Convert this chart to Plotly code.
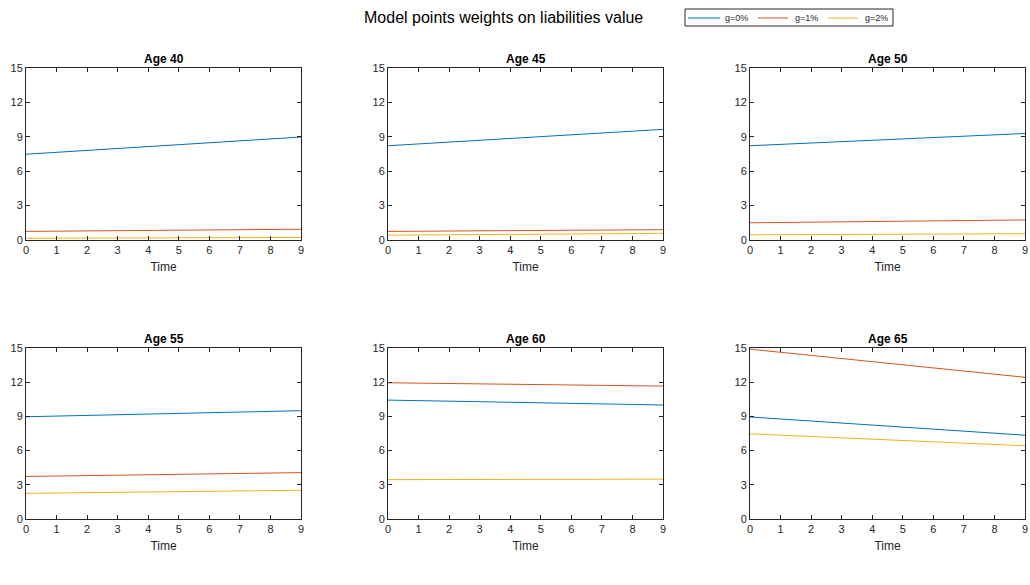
import plotly.graph_objects as go

time = [0, 1, 2, 3, 4, 5, 6, 7, 8, 9]
ages = ["Age 40", "Age 45", "Age 50", "Age 55", "Age 60", "Age 65"]
series_names = ["g=0%", "g=1%", "g=2%"]

# values per age panel, per series (g=0%, g=1%, g=2%)
age40_g0 = [7.48, 7.65, 7.82, 7.98, 8.15, 8.32, 8.48, 8.65, 8.82, 8.98]
age40_g1 = [0.75, 0.77, 0.79, 0.81, 0.83, 0.86, 0.88, 0.90, 0.92, 0.94]
age40_g2 = [0.15, 0.16, 0.17, 0.17, 0.18, 0.19, 0.20, 0.20, 0.21, 0.22]

age45_g0 = [8.22, 8.38, 8.54, 8.70, 8.86, 9.02, 9.18, 9.34, 9.50, 9.65]
age45_g1 = [0.75, 0.77, 0.78, 0.80, 0.82, 0.83, 0.85, 0.87, 0.88, 0.90]
age45_g2 = [0.42, 0.44, 0.46, 0.48, 0.50, 0.51, 0.53, 0.55, 0.56, 0.58]

age50_g0 = [8.22, 8.34, 8.46, 8.58, 8.70, 8.82, 8.94, 9.06, 9.18, 9.29]
age50_g1 = [1.50, 1.53, 1.55, 1.58, 1.61, 1.64, 1.66, 1.69, 1.72, 1.75]
age50_g2 = [0.45, 0.46, 0.47, 0.48, 0.50, 0.51, 0.52, 0.53, 0.54, 0.55]

age55_g0 = [8.97, 9.03, 9.09, 9.15, 9.21, 9.27, 9.33, 9.39, 9.45, 9.50]
age55_g1 = [3.73, 3.77, 3.81, 3.85, 3.89, 3.93, 3.97, 4.01, 4.04, 4.07]
age55_g2 = [2.25, 2.28, 2.31, 2.34, 2.37, 2.40, 2.43, 2.46, 2.49, 2.52]

age60_g0 = [10.43, 10.39, 10.34, 10.29, 10.24, 10.20, 10.15, 10.10, 10.05, 10.00]
age60_g1 = [11.95, 11.92, 11.89, 11.86, 11.83, 11.80, 11.77, 11.73, 11.70, 11.66]
age60_g2 = [3.45, 3.46, 3.46, 3.47, 3.47, 3.48, 3.48, 3.49, 3.49, 3.50]

age65_g0 = [8.95, 8.77, 8.59, 8.41, 8.23, 8.05, 7.87, 7.69, 7.52, 7.35]
age65_g1 = [14.90, 14.62, 14.34, 14.06, 13.78, 13.50, 13.22, 12.94, 12.68, 12.43]
age65_g2 = [7.47, 7.35, 7.24, 7.12, 7.00, 6.88, 6.77, 6.65, 6.53, 6.42]

panel_values = [
    [age40_g0, age40_g1, age40_g2],
    [age45_g0, age45_g1, age45_g2],
    [age50_g0, age50_g1, age50_g2],
    [age55_g0, age55_g1, age55_g2],
    [age60_g0, age60_g1, age60_g2],
    [age65_g0, age65_g1, age65_g2],
]

y_ticks = [0, 3, 6, 9, 12, 15]
x_ticks = [0, 1, 2, 3, 4, 5, 6, 7, 8, 9]

colors = ["#0072BD", "#D95319", "#EDB120"]

W, H = 1030, 585
col_px = [(26, 301), (388, 663), (750, 1025)]
row_px = [(68, 240), (348, 519)]


def px(v):
    return v / W


def py(v):
    return 1 - v / H


FONT = "Liberation Sans, Arial, sans-serif"
AXC = "#262626"

fig = go.Figure()
layout = dict(
    width=W, height=H, autosize=False,
    margin=dict(l=0, r=0, t=0, b=0, autoexpand=False),
    paper_bgcolor="white", plot_bgcolor="white",
    font=dict(family=FONT, size=11, color=AXC),
    annotations=[], shapes=[], showlegend=False,
)

for i, vals in enumerate(panel_values):
    r, c = divmod(i, 3)
    xa = "x" if i == 0 else f"x{i+1}"
    ya = "y" if i == 0 else f"y{i+1}"
    for s in range(3):
        fig.add_trace(go.Scatter(
            x=time, y=vals[s], mode="lines", name=series_names[s],
            line=dict(color=colors[s], width=1),
            xaxis=xa, yaxis=ya,
        ))
    x0, x1 = col_px[c]
    y0, y1 = row_px[r]
    xd = [px(x0), px(x1)]
    yd = [py(y1), py(y0)]
    axis_common = dict(
        showline=True, linecolor=AXC, linewidth=1, mirror="ticks",
        ticks="inside", ticklen=4, tickcolor=AXC, tickwidth=1,
        showgrid=False, zeroline=False, fixedrange=True, automargin=False,
        tickfont=dict(family=FONT, size=11, color=AXC),
    )
    xkey = "xaxis" if i == 0 else f"xaxis{i+1}"
    ykey = "yaxis" if i == 0 else f"yaxis{i+1}"
    layout[xkey] = dict(
        domain=xd, anchor=ya, range=[0, 9], tickvals=x_ticks,
        title=dict(text="Time", font=dict(family=FONT, size=12, color=AXC), standoff=7),
        **axis_common,
    )
    layout[ykey] = dict(
        domain=yd, anchor=xa, range=[0, 15], tickvals=y_ticks,
        **axis_common,
    )
    layout["annotations"].append(dict(
        text="<b>" + ages[i] + "</b>", x=(xd[0] + xd[1]) / 2, y=yd[1],
        xref="paper", yref="paper", xanchor="center", yanchor="bottom",
        yshift=0, showarrow=False, font=dict(family=FONT, size=12, color="black"),
    ))

layout["annotations"].append(dict(
    text="Model points weights on liabilities value", x=px(503), y=py(17),
    xref="paper", yref="paper", xanchor="center", yanchor="middle",
    showarrow=False, font=dict(family=FONT, size=16, color="black"),
))

# legend box drawn manually to match the compact MATLAB legend
leg_box = (685, 9, 893, 26)
leg_lines = [(688, 720), (758, 788), (828, 858)]
leg_text_x = [723, 793, 863]
leg_y = 18
layout["shapes"].append(dict(
    type="rect", xref="paper", yref="paper",
    x0=px(leg_box[0]), x1=px(leg_box[2]), y0=py(leg_box[3]), y1=py(leg_box[1]),
    line=dict(color=AXC, width=1), fillcolor="white",
))
for s in range(3):
    layout["shapes"].append(dict(
        type="line", xref="paper", yref="paper",
        x0=px(leg_lines[s][0]), x1=px(leg_lines[s][1]), y0=py(leg_y), y1=py(leg_y),
        line=dict(color=colors[s], width=1),
    ))
    layout["annotations"].append(dict(
        text=series_names[s], x=px(leg_text_x[s]), y=py(leg_y),
        xref="paper", yref="paper", xanchor="left", yanchor="middle",
        showarrow=False, font=dict(family=FONT, size=9, color=AXC),
    ))

fig.update_layout(**layout)
fig.write_html(
    "out.html",
    config={"displayModeBar": False},
    post_script="document.documentElement.style.overflow='hidden';"
                "document.body.style.margin='0';document.body.style.overflow='hidden';",
)
